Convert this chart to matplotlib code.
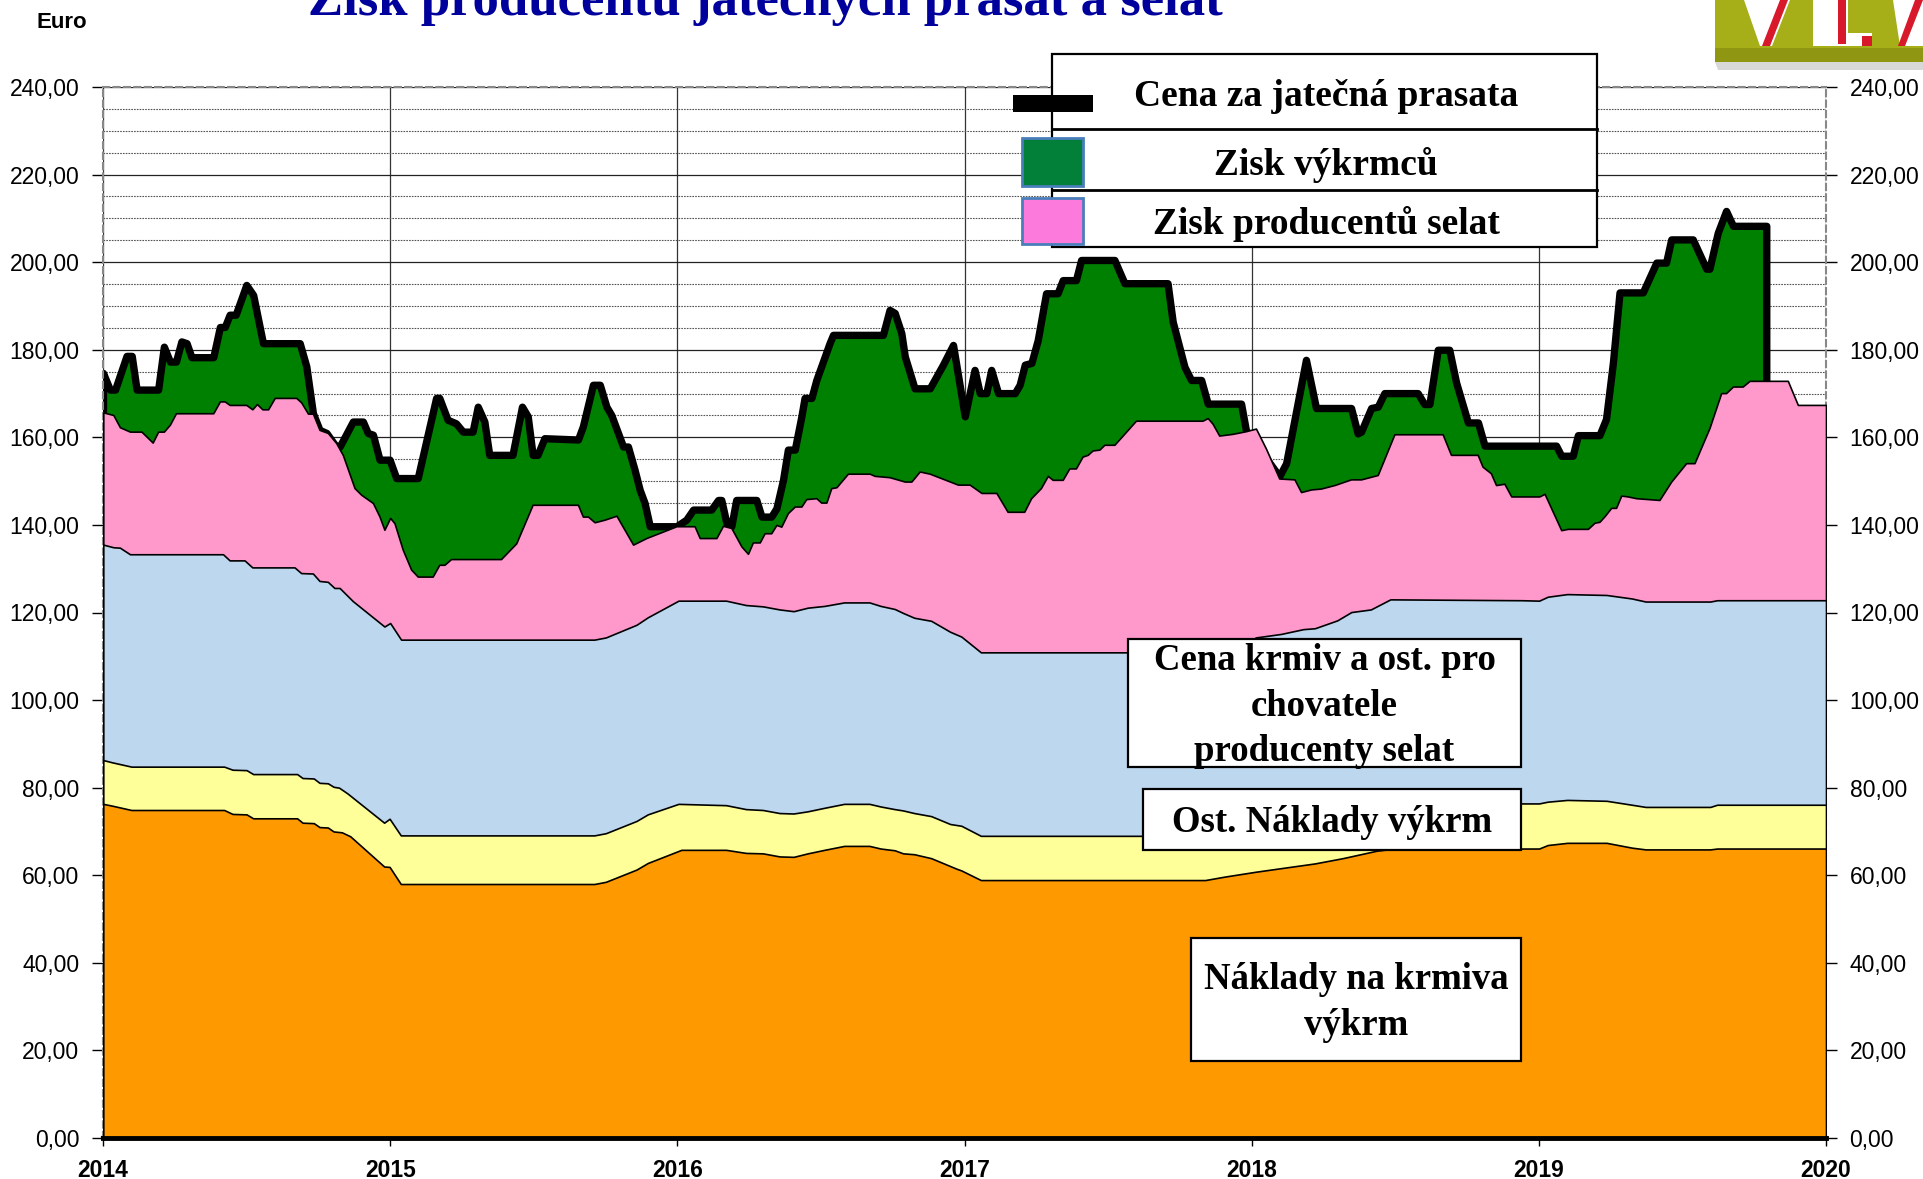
import numpy as np
import matplotlib
matplotlib.use('Agg')
import matplotlib.pyplot as plt
from matplotlib.patches import Rectangle, Polygon
from matplotlib.lines import Line2D
from matplotlib.ticker import FuncFormatter, MultipleLocator

# ---------------- data (cumulative tops of the stacked areas, EUR) ----------------
price_x = [2014.00, 2014.024, 2014.042, 2014.082, 2014.100, 2014.117, 2014.192, 2014.212, 2014.233, 2014.254,
           2014.273, 2014.291, 2014.308, 2014.384, 2014.407, 2014.424, 2014.441, 2014.462, 2014.499, 2014.523,
           2014.557, 2014.685, 2014.708, 2014.731, 2014.754, 2014.778, 2014.807, 2014.824, 2014.870, 2014.905,
           2014.922, 2014.940, 2014.963, 2014.998, 2015.021, 2015.096, 2015.160, 2015.171, 2015.200, 2015.229,
           2015.253, 2015.287, 2015.305, 2015.328, 2015.345, 2015.426, 2015.459, 2015.479, 2015.496, 2015.513,
           2015.537, 2015.654, 2015.671, 2015.706, 2015.730, 2015.753, 2015.770, 2015.811, 2015.828, 2015.851,
           2015.869, 2015.886, 2015.904, 2015.997, 2016.031, 2016.055, 2016.118, 2016.142, 2016.153, 2016.171,
           2016.188, 2016.205, 2016.275, 2016.293, 2016.327, 2016.345, 2016.368, 2016.385, 2016.409, 2016.432,
           2016.443, 2016.467, 2016.484, 2016.530, 2016.542, 2016.716, 2016.739, 2016.757, 2016.780, 2016.792,
           2016.826, 2016.879, 2016.925, 2016.960, 2017.001, 2017.035, 2017.053, 2017.076, 2017.093, 2017.117,
           2017.175, 2017.192, 2017.210, 2017.233, 2017.255, 2017.284, 2017.324, 2017.342, 2017.388, 2017.406,
           2017.522, 2017.557, 2017.707, 2017.725, 2017.766, 2017.789, 2017.824, 2017.847, 2017.963, 2017.980,
           2018.096, 2018.120, 2018.189, 2018.224, 2018.346, 2018.369, 2018.381, 2018.416, 2018.439, 2018.462,
           2018.578, 2018.601, 2018.619, 2018.648, 2018.688, 2018.712, 2018.753, 2018.788, 2018.811, 2019.060,
           2019.078, 2019.118, 2019.136, 2019.211, 2019.234, 2019.258, 2019.281, 2019.362, 2019.409, 2019.443,
           2019.461, 2019.536, 2019.583, 2019.594, 2019.623, 2019.652, 2019.676, 2019.792]
price_y = [174.7, 170.9, 170.9, 178.6, 178.6, 170.9, 170.9, 180.7, 177.3, 177.3,
           181.9, 181.5, 178.3, 178.3, 185.2, 185.2, 188.0, 188.0, 194.8, 192.5,
           181.5, 181.5, 176.2, 165.5, 161.7, 161.0, 158.3, 157.9, 163.6, 163.6,
           161.0, 160.6, 154.9, 154.9, 150.7, 150.7, 169.0, 169.0, 164.0, 163.2,
           161.3, 161.3, 167.0, 163.6, 156.0, 156.0, 167.0, 164.8, 156.0, 156.0,
           159.8, 159.5, 162.5, 172.0, 172.0, 167.0, 165.1, 157.9, 157.9, 152.6,
           148.0, 145.0, 139.7, 139.7, 141.2, 143.5, 143.5, 145.7, 145.7, 140.4,
           139.7, 145.7, 145.7, 141.9, 141.9, 143.8, 150.3, 157.2, 157.2, 164.8,
           169.0, 169.0, 173.1, 181.5, 183.4, 183.4, 189.1, 188.4, 183.8, 178.5,
           171.2, 171.2, 176.6, 181.1, 164.8, 175.4, 170.1, 170.1, 175.4, 170.1,
           170.1, 172.0, 176.6, 177.0, 182.2, 192.9, 192.9, 195.9, 195.9, 200.5,
           200.5, 195.2, 195.2, 186.4, 176.1, 173.1, 173.1, 167.7, 167.7, 161.6,
           151.1, 154.1, 177.7, 166.7, 166.7, 160.9, 161.3, 166.7, 167.0, 170.1,
           170.1, 167.6, 167.6, 180.0, 180.0, 172.5, 163.4, 163.4, 158.1, 158.1,
           155.8, 155.8, 160.5, 160.5, 164.2, 177.1, 193.1, 193.1, 199.9, 199.9,
           205.2, 205.2, 198.5, 198.5, 206.7, 211.7, 208.3, 208.3]

piglet_x = [2014.001, 2014.036, 2014.059, 2014.094, 2014.134, 2014.173, 2014.192, 2014.212, 2014.233, 2014.254,
            2014.384, 2014.407, 2014.424, 2014.441, 2014.499, 2014.520, 2014.536, 2014.555, 2014.575, 2014.598,
            2014.673, 2014.690, 2014.714, 2014.731, 2014.754, 2014.783, 2014.812, 2014.835, 2014.876, 2014.899,
            2014.940, 2014.963, 2014.980, 2015.000, 2015.015, 2015.044, 2015.073, 2015.096, 2015.148, 2015.171,
            2015.189, 2015.212, 2015.386, 2015.439, 2015.496, 2015.654, 2015.671, 2015.689, 2015.712, 2015.747,
            2015.788, 2015.846, 2015.892, 2015.997, 2016.060, 2016.078, 2016.136, 2016.159, 2016.188, 2016.223,
            2016.246, 2016.263, 2016.287, 2016.304, 2016.327, 2016.345, 2016.362, 2016.385, 2016.409, 2016.432,
            2016.449, 2016.484, 2016.501, 2016.519, 2016.536, 2016.554, 2016.594, 2016.670, 2016.687, 2016.739,
            2016.792, 2016.815, 2016.844, 2016.879, 2016.977, 2017.018, 2017.059, 2017.111, 2017.150, 2017.208,
            2017.232, 2017.266, 2017.290, 2017.307, 2017.342, 2017.365, 2017.388, 2017.411, 2017.429, 2017.446,
            2017.470, 2017.487, 2017.522, 2017.597, 2017.829, 2017.847, 2017.864, 2017.887, 2017.934, 2017.980,
            2018.015, 2018.050, 2018.096, 2018.149, 2018.172, 2018.207, 2018.241, 2018.288, 2018.346, 2018.381,
            2018.439, 2018.497, 2018.665, 2018.694, 2018.787, 2018.804, 2018.833, 2018.851, 2018.880, 2018.904,
            2019.002, 2019.020, 2019.078, 2019.101, 2019.171, 2019.194, 2019.211, 2019.229, 2019.252, 2019.269,
            2019.287, 2019.310, 2019.339, 2019.420, 2019.461, 2019.513, 2019.542, 2019.594, 2019.635, 2019.652,
            2019.676, 2019.710, 2019.734, 2019.867, 2019.902, 2020.000]
piglet_y = [165.7, 165.1, 162.3, 161.3, 161.3, 158.8, 161.3, 161.3, 162.9, 165.5,
            165.5, 168.2, 168.2, 167.4, 167.4, 166.4, 167.6, 166.4, 166.4, 169.0,
            169.0, 168.0, 165.4, 165.4, 161.7, 161.0, 158.7, 156.0, 148.4, 146.9,
            145.0, 141.9, 138.9, 141.6, 140.4, 134.3, 129.8, 128.2, 128.2, 130.9,
            130.9, 132.2, 132.2, 135.8, 144.6, 144.6, 141.9, 141.9, 140.6, 141.2,
            142.1, 135.5, 137.0, 139.7, 139.7, 137.0, 137.0, 139.8, 139.3, 135.1,
            133.4, 136.0, 136.0, 138.1, 138.1, 140.0, 139.6, 142.7, 144.2, 144.2,
            145.9, 146.1, 145.1, 145.1, 148.4, 148.6, 151.7, 151.7, 151.2, 150.9,
            149.9, 149.9, 152.2, 151.7, 149.2, 149.2, 147.3, 147.3, 143.0, 143.0,
            146.1, 148.4, 151.2, 150.3, 150.3, 152.9, 152.9, 155.6, 156.0, 157.0,
            157.2, 158.3, 158.3, 163.8, 163.8, 164.4, 163.1, 160.4, 160.8, 161.4,
            162.0, 157.4, 150.6, 150.4, 147.5, 148.1, 148.3, 149.1, 150.4, 150.4,
            151.4, 160.7, 160.7, 156.0, 156.0, 153.3, 151.8, 149.1, 149.4, 146.5,
            146.5, 147.1, 138.8, 139.1, 139.1, 140.5, 140.7, 142.0, 143.9, 143.9,
            146.7, 146.5, 146.1, 145.7, 149.9, 154.1, 154.1, 162.1, 170.1, 170.1,
            171.6, 171.6, 172.9, 172.9, 167.4, 167.4]

sow_x = [2014.001, 2014.036, 2014.059, 2014.094, 2014.418, 2014.441, 2014.493, 2014.520, 2014.667, 2014.690,
         2014.731, 2014.754, 2014.783, 2014.806, 2014.824, 2014.847, 2014.870, 2014.980, 2015.000, 2015.038,
         2015.711, 2015.751, 2015.858, 2015.897, 2016.004, 2016.170, 2016.239, 2016.298, 2016.356, 2016.405,
         2016.454, 2016.512, 2016.581, 2016.669, 2016.708, 2016.757, 2016.786, 2016.825, 2016.884, 2016.950,
         2016.989, 2017.057, 2017.950, 2018.014, 2018.102, 2018.180, 2018.220, 2018.298, 2018.347, 2018.415,
         2018.483, 2018.943, 2019.001, 2019.031, 2019.099, 2019.236, 2019.324, 2019.372, 2019.597, 2019.621,
         2020.000]
sow_y = [135.5, 134.9, 134.8, 133.3, 133.3, 131.9, 131.9, 130.3, 130.3, 129.0,
         128.9, 127.2, 127.0, 125.6, 125.6, 124.1, 122.6, 116.8, 117.6, 113.8,
         113.8, 114.3, 117.2, 118.9, 122.7, 122.7, 121.7, 121.4, 120.7, 120.3,
         121.1, 121.5, 122.3, 122.3, 121.5, 120.8, 119.9, 118.8, 118.1, 115.6,
         114.5, 110.9, 110.9, 114.3, 115.1, 116.2, 116.4, 118.2, 120.1, 120.7,
         123.0, 122.8, 122.7, 123.6, 124.2, 124.0, 123.2, 122.5, 122.5, 122.8,
         122.8]

other_x = [2014.001, 2014.031, 2014.099, 2014.422, 2014.451, 2014.500, 2014.523, 2014.676, 2014.695, 2014.734,
           2014.754, 2014.783, 2014.803, 2014.822, 2014.851, 2014.979, 2014.998, 2015.037, 2015.711, 2015.751,
           2015.858, 2015.897, 2016.004, 2016.170, 2016.239, 2016.298, 2016.356, 2016.405, 2016.454, 2016.512,
           2016.581, 2016.669, 2016.708, 2016.757, 2016.786, 2016.825, 2016.884, 2016.950, 2016.989, 2017.057,
           2017.840, 2017.950, 2018.020, 2018.120, 2018.220, 2018.320, 2018.435, 2018.500, 2018.943, 2019.001,
           2019.031, 2019.099, 2019.236, 2019.324, 2019.372, 2019.597, 2019.621, 2020.000]
other_y = [86.3, 85.8, 84.8, 84.8, 84.1, 84.0, 83.1, 83.1, 82.2, 82.1,
           81.1, 81.0, 80.2, 80.0, 78.7, 72.0, 72.9, 69.1, 69.1, 69.6,
           72.4, 73.9, 76.3, 76.0, 75.1, 74.9, 74.2, 74.1, 74.6, 75.4,
           76.3, 76.3, 75.7, 75.1, 74.8, 74.2, 73.5, 71.7, 71.3, 69.0,
           69.0, 70.2, 71.0, 72.2, 73.2, 74.3, 75.9, 76.2, 76.4, 76.4,
           76.8, 77.2, 77.0, 76.1, 75.6, 75.6, 76.1, 76.1]

feed_x = [2014.001, 2014.031, 2014.099, 2014.422, 2014.451, 2014.500, 2014.523, 2014.676, 2014.695, 2014.734,
          2014.754, 2014.783, 2014.803, 2014.832, 2014.861, 2014.979, 2014.998, 2015.037, 2015.711, 2015.751,
          2015.858, 2015.897, 2016.014, 2016.170, 2016.239, 2016.298, 2016.356, 2016.405, 2016.454, 2016.512,
          2016.581, 2016.669, 2016.708, 2016.757, 2016.786, 2016.825, 2016.884, 2016.972, 2016.989, 2017.057,
          2017.838, 2017.907, 2018.014, 2018.122, 2018.220, 2018.317, 2018.435, 2018.500, 2019.001, 2019.031,
          2019.099, 2019.236, 2019.324, 2019.372, 2019.597, 2019.621, 2020.000]
feed_y = [76.3, 75.9, 74.9, 74.9, 74.0, 73.9, 73.0, 73.0, 72.0, 71.9,
          71.0, 70.9, 70.0, 69.8, 68.9, 62.0, 61.9, 58.0, 58.0, 58.5,
          61.3, 62.8, 65.8, 65.8, 65.1, 65.0, 64.3, 64.2, 65.0, 65.8,
          66.7, 66.7, 66.1, 65.7, 65.0, 64.8, 63.9, 61.5, 61.1, 58.9,
          58.9, 59.7, 60.8, 61.8, 62.7, 63.9, 65.6, 66.1, 66.1, 66.9,
          67.4, 67.4, 66.3, 65.9, 65.9, 66.1, 66.1]

year_ticks = [2014, 2015, 2016, 2017, 2018, 2019, 2020]
y_ticks = list(range(0, 241, 20))

title = "Zisk producentů jatečných prasat a selat"
legend_labels = ["Cena za jatečná prasata", "Zisk výkrmců", "Zisk producentů selat"]
box_labels = ["Cena krmiv a ost. pro\nchovatele\nproducenty selat",
              "Ost. Náklady výkrm",
              "Náklady na krmiva\nvýkrm"]

# ---------------- figure ----------------
W, H = 1923, 1179
fig = plt.figure(figsize=(W / 100, H / 100), dpi=100)
fig.patch.set_facecolor('white')


def fxp(px):
    return px / W


def fyp(py):
    return 1 - py / H


ax = fig.add_axes([fxp(103), fyp(1138), (1826 - 103) / W, (1138 - 87) / H])
ax.set_xlim(2014, 2020)
ax.set_ylim(0, 240)

SERIF = 'Liberation Serif'
SANS = 'Liberation Sans'

C_GREEN = '#008000'
C_PINK = '#FF99CC'
C_BLUE = '#BDD7EE'
C_YELLOW = '#FFFF99'
C_ORANGE = '#FF9900'

# stacked look: each top filled down to zero, later ones drawn over
pc = ax.fill_between(price_x, price_y, 0, facecolor=C_GREEN, edgecolor='black', linewidth=5.3, zorder=2)
pc.set_joinstyle('round')
ax.fill_between(piglet_x, piglet_y, 0, facecolor=C_PINK, edgecolor='black', linewidth=1.2, zorder=3)
ax.fill_between(sow_x, sow_y, 0, facecolor=C_BLUE, edgecolor='black', linewidth=1.2, zorder=4)
ax.fill_between(other_x, other_y, 0, facecolor=C_YELLOW, edgecolor='black', linewidth=1.2, zorder=5)
ax.fill_between(feed_x, feed_y, 0, facecolor=C_ORANGE, edgecolor='black', linewidth=1.2, zorder=6)
ax.axhline(0, color='black', lw=3.5, zorder=7, clip_on=False)

# grid
ax.set_axisbelow(True)
ax.set_xticks(year_ticks)
ax.set_yticks(y_ticks)
ax.yaxis.set_minor_locator(MultipleLocator(5))
ax.grid(axis='y', which='major', color='#222222', lw=0.9, ls='-')
ax.grid(axis='y', which='minor', color='#555555', lw=0.8, ls=(0, (1.5, 1)))
ax.grid(axis='x', which='major', color='#333333', lw=0.9, ls='-')

ax.yaxis.set_major_formatter(FuncFormatter(lambda v, p: f"{v:.2f}".replace('.', ',')))
ax.set_xticklabels([str(y) for y in year_ticks], fontweight='bold', family=SANS, fontsize=16.5)
ax.tick_params(axis='y', which='major', direction='out', length=8, width=1, labelsize=16.5,
               pad=9, left=True, right=True, labelleft=True, labelright=True)
ax.tick_params(axis='y', which='minor', length=0)
ax.tick_params(axis='x', which='major', direction='out', length=6, width=1, pad=9)
for lab in ax.get_yticklabels():
    lab.set_family(SANS)

for s in ['left', 'right', 'top']:
    ax.spines[s].set_color('#888888')
    ax.spines[s].set_linestyle((0, (3, 2)))
    ax.spines[s].set_linewidth(1.5)
ax.spines['bottom'].set_linewidth(3)
ax.spines['bottom'].set_color('black')

# ---------------- texts ----------------
fig.text(fxp(765), fyp(15), title, ha='center', va='baseline', fontsize=38,
         fontweight='bold', family=SERIF, color='#00009C')
fig.text(fxp(37), fyp(22), 'Euro', ha='left', va='center', fontsize=16,
         fontweight='bold', family=SANS)


def rect_px(x0, y0, x1, y1, **kw):
    r = Rectangle((fxp(x0), fyp(y1)), (x1 - x0) / W, (y1 - y0) / H,
                  transform=fig.transFigure, **kw)
    fig.add_artist(r)
    return r


# legend box
rect_px(1052, 54, 1597, 247, facecolor='white', edgecolor='black', lw=1.6, zorder=10)
for yy in (129, 190):
    fig.add_artist(Line2D([fxp(1052), fxp(1597)], [fyp(yy), fyp(yy)], color='black', lw=2,
                          transform=fig.transFigure, zorder=11))
rect_px(1013, 95, 1093, 112, facecolor='black', edgecolor='black', lw=0, zorder=12)
rect_px(1022, 138, 1083, 186, facecolor='#02803A', edgecolor='#4A7EBB', lw=2, zorder=12)
rect_px(1022, 198, 1083, 244, facecolor='#FC7ADC', edgecolor='#4A7EBB', lw=2, zorder=12)
for lab, yc in zip(legend_labels, (97, 165, 224)):
    fig.text(fxp(1326), fyp(yc), lab, ha='center', va='center', fontsize=27,
             fontweight='bold', family=SERIF, zorder=13)

# annotation boxes
boxes = [(1128, 639, 1521, 767), (1143, 789, 1521, 850), (1191, 938, 1521, 1061)]
for lab, (x0, y0, x1, y1) in zip(box_labels, boxes):
    rect_px(x0, y0, x1, y1, facecolor='white', edgecolor='black', lw=1.6, zorder=10)
    fig.text(fxp((x0 + x1) / 2), fyp((y0 + y1) / 2 + 3), lab, ha='center', va='center',
             fontsize=26.5, fontweight='bold', family=SERIF, zorder=13, linespacing=1.38,
             multialignment='center')

# ---------------- logo (decoration, top right) ----------------
def poly_px(pts, **kw):
    p = Polygon([(fxp(x), fyp(y)) for x, y in pts], closed=True, transform=fig.transFigure, **kw)
    fig.add_artist(p)


poly_px([(1715, 62), (1923, 62), (1923, 70), (1718, 70)], facecolor='#D8D8D8', edgecolor='none', zorder=19)
poly_px([(1715, 0), (1923, 0), (1923, 62), (1715, 62)], facecolor='#A6AE18', edgecolor='none', zorder=20)
poly_px([(1715, 48), (1923, 48), (1923, 62), (1715, 62)], facecolor='#8E9612', edgecolor='none', zorder=20)
poly_px([(1744, 0), (1790, 0), (1772, 46), (1760, 46)], facecolor='white', edgecolor='none', zorder=21)
poly_px([(1780, 0), (1788, 0), (1770, 46), (1762, 46)], facecolor='#D7192B', edgecolor='none', zorder=22)
poly_px([(1813, 0), (1848, 0), (1848, 33), (1872, 33), (1872, 46), (1813, 46)], facecolor='white',
        edgecolor='none', zorder=21)
poly_px([(1838, 0), (1846, 0), (1846, 44), (1838, 44)], facecolor='#D7192B', edgecolor='none', zorder=22)
poly_px([(1862, 36), (1872, 36), (1872, 46), (1862, 46)], facecolor='#D7192B', edgecolor='none', zorder=22)
poly_px([(1893, 0), (1923, 0), (1923, 46), (1900, 46)], facecolor='white', edgecolor='none', zorder=21)
poly_px([(1915, 0), (1923, 0), (1905, 46), (1898, 46)], facecolor='#D7192B', edgecolor='none', zorder=22)

fig.savefig('out.png', dpi=100, facecolor='white')
